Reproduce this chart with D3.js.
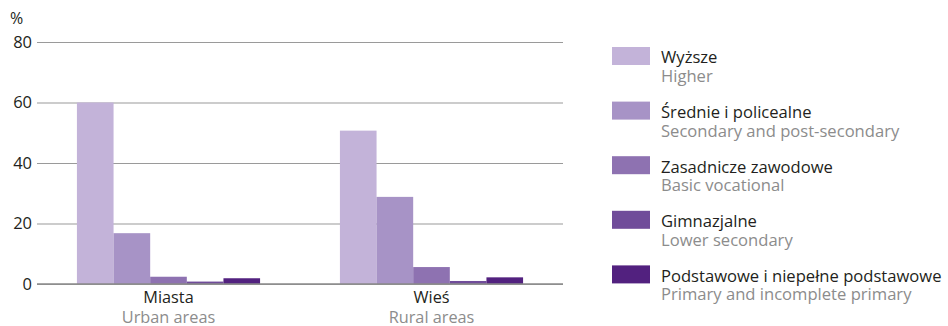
<!DOCTYPE html>
<html>
<head>
<meta charset="utf-8">
<script src="https://cdn.jsdelivr.net/npm/d3@7"></script>
<style>
  html, body { margin: 0; padding: 0; background: #fff; }
  svg { display: block; font-family: "Open Sans", sans-serif; }
</style>
</head>
<body>
<svg id="chart" width="948" height="326"></svg>
<script>
// Categories (Polish / English)
const categories = ["Miasta", "Wieś"];
const categoriesEn = ["Urban areas", "Rural areas"];

// Education levels (series)
const seriesPl = ["Wyższe", "Średnie i policealne", "Zasadnicze zawodowe", "Gimnazjalne", "Podstawowe i niepełne podstawowe"];
const seriesEn = ["Higher", "Secondary and post-secondary", "Basic vocational", "Lower secondary", "Primary and incomplete primary"];
const seriesColors = ["#c3b3d9", "#a793c6", "#8e72b1", "#704c9a", "#52217f"];

// Values in % per category, one array per education level
const higher = [60.0, 50.7];
const secondary = [16.8, 28.8];
const vocational = [2.4, 5.6];
const lowerSecondary = [0.8, 1.0];
const primary = [1.9, 2.2];
const seriesValues = [higher, secondary, vocational, lowerSecondary, primary];

const yTicks = [0, 20, 40, 60, 80];

const svg = d3.select("#chart");
const plot = { left: 37, right: 563, top: 42, bottom: 284 };

const x0 = d3.scaleBand().domain(categories).range([plot.left, plot.right]).padding(0);
const x1 = d3.scaleBand().domain(d3.range(seriesPl.length)).range([0, x0.bandwidth()])
  .paddingInner(0).paddingOuter(1.09);
const y = d3.scaleLinear().domain([0, 80]).range([plot.bottom, plot.top]);

// Gridlines and tick labels
const yAxis = d3.axisLeft(y).tickValues(yTicks).tickSize(-(plot.right - plot.left)).tickPadding(5);
const gy = svg.append("g").attr("transform", `translate(${plot.left},0)`).call(yAxis);
gy.select(".domain").remove();
gy.selectAll(".tick line").attr("stroke", "#9a9a9a").attr("stroke-width", 1.2);
gy.selectAll(".tick text").attr("fill", "#231f20").attr("font-size", 16.5)
  .attr("font-family", "'Open Sans', sans-serif").attr("dy", "0.33em");

svg.append("text").attr("x", 10).attr("y", 24).attr("font-size", 16).attr("fill", "#231f20").text("%");

// Bars
const groups = svg.append("g").selectAll("g").data(categories).join("g")
  .attr("transform", d => `translate(${x0(d)},0)`);
groups.selectAll("rect")
  .data((c, ci) => seriesValues.map((vals, si) => ({ si, v: vals[ci] })))
  .join("rect")
  .attr("x", d => x1(d.si))
  .attr("width", x1.bandwidth())
  .attr("y", d => y(d.v))
  .attr("height", d => y(0) - y(d.v))
  .attr("fill", d => seriesColors[d.si]);

// Baseline over bars
svg.append("line").attr("x1", plot.left).attr("x2", plot.right)
  .attr("y1", y(0)).attr("y2", y(0)).attr("stroke", "#8a8a8a").attr("stroke-width", 1.5);

// Category labels (Polish above, English below)
const cl = svg.append("g").selectAll("g").data(categories).join("g")
  .attr("transform", d => `translate(${x0(d) + x0.bandwidth() / 2},0)`);
cl.append("text").attr("y", 303).attr("text-anchor", "middle").attr("font-size", 16.3)
  .attr("fill", "#231f20").text(d => d);
cl.append("text").attr("y", 322.5).attr("text-anchor", "middle").attr("font-size", 16.3)
  .attr("fill", "#8c8c8c").text((d, i) => categoriesEn[i]);

// Legend
const legend = svg.append("g").selectAll("g").data(seriesPl).join("g")
  .attr("transform", (d, i) => `translate(612,${47 + i * 54.6})`);
legend.append("rect").attr("width", 38).attr("height", 18).attr("fill", (d, i) => seriesColors[i]);
legend.append("text").attr("x", 49).attr("y", 16.3).attr("font-size", 16.6)
  .attr("fill", "#231f20").text(d => d);
legend.append("text").attr("x", 49).attr("y", 35).attr("font-size", 16.6)
  .attr("fill", "#8c8c8c").text((d, i) => seriesEn[i]);
</script>
</body>
</html>
